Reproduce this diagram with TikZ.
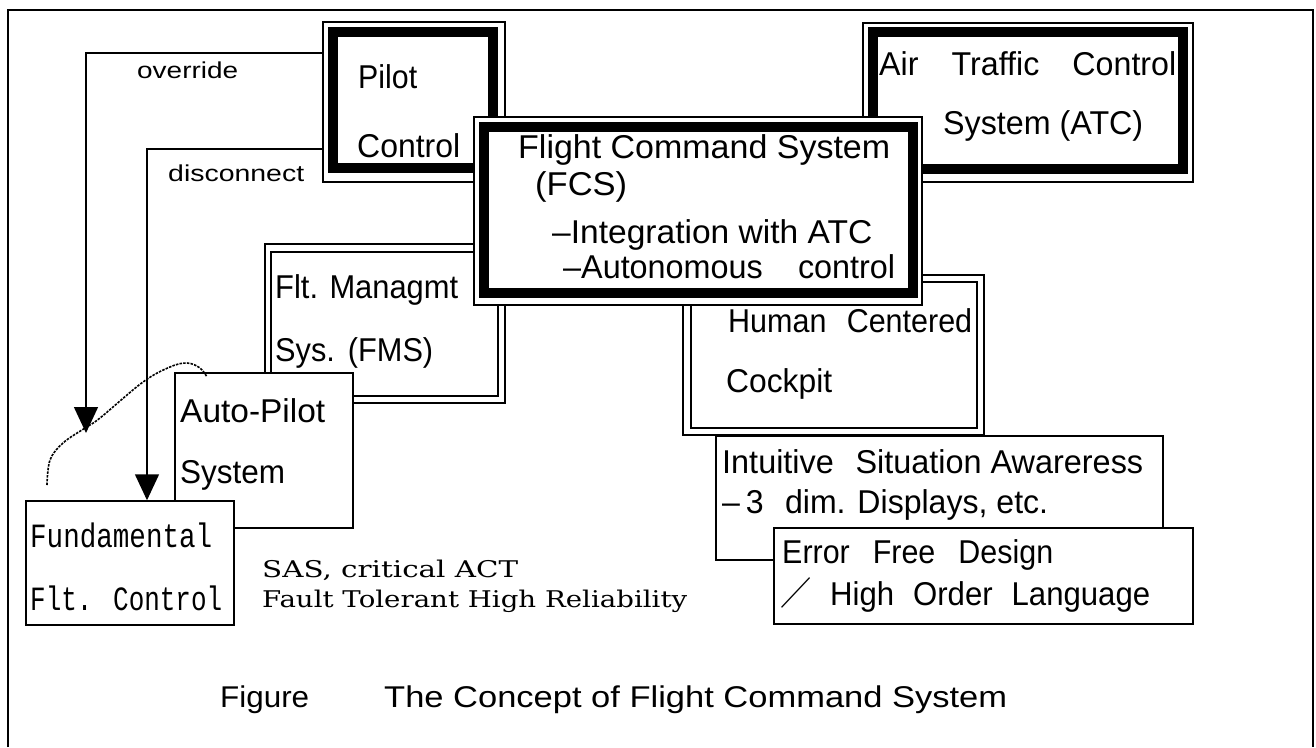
\documentclass[tikz,border=0pt]{standalone}
\usepackage{fontspec}
\usepackage{graphicx}
\setmainfont{Liberation Sans}
\newfontfamily\jpf{Noto Sans CJK JP}
\newfontfamily\monof{Liberation Mono}
\newfontfamily\seriff{DejaVu Serif}
\usetikzlibrary{fit,arrows.meta}
\newcommand\fitw[2]{\resizebox{#1pt}{\height}{#2}}
\begin{document}
\begin{tikzpicture}[x=1pt,y=-1pt,
 thinbox/.style={draw, line width=1.5pt, fill=white, inner sep=0pt, rectangle},
 heavybox/.style={draw, line width=10pt, inner sep=0pt, rectangle},
 plainbox/.style={draw, line width=1.5pt, inner sep=0pt, rectangle},
 txt/.style={anchor=base west, inner sep=0pt, font=\fontsize{33}{33}\selectfont},
 lbl/.style={anchor=base west, inner sep=0pt, font=\fontsize{23}{23}\selectfont},
 monotxt/.style={anchor=base west, inner sep=0pt, font=\monof\fontsize{34}{34}\selectfont},
 seriftxt/.style={anchor=base west, inner sep=0pt, font=\seriff\fontsize{23}{23}\selectfont},
 captxt/.style={anchor=base west, inner sep=0pt, font=\fontsize{30}{30}\selectfont},
 conn/.style={line width=1.5pt, -{Triangle[width=24pt,length=26pt]}},
 dashcurve/.style={line width=1.6pt, dash pattern=on 2.5pt off 1.2pt},
]
\useasboundingbox (0,0) rectangle (1316,747);
\fill[white] (0,0) rectangle (1316,747);
\draw[line width=2pt] (8,747) -- (8,10) -- (1313,10) -- (1313,747);

% Pilot Control
\node[thinbox, fit={(323,22) (505,182)}] (pilot) {};
\node[heavybox, fit={(332.5,32) (493,168)}] (pilotin) {};
% ATC
\node[thinbox, fit={(863,23) (1193,182)}] (atc) {};
\node[heavybox, fit={(873,32) (1182.5,169)}] (atcin) {};
% FMS
\node[thinbox, fit={(265,244) (505,403)}] (fms) {};
\node[plainbox, fit={(271,252) (498,396)}] (fmsin) {};
% Human Centered Cockpit
\node[thinbox, fit={(683,275) (984,435)}] (hcc) {};
\node[plainbox, fit={(691,282) (977,428)}] (hccin) {};
% FCS
\node[thinbox, fit={(474,117) (922,305)}] (fcs) {};
\node[heavybox, fit={(483.5,127) (913,293)}] (fcsin) {};
% Auto-Pilot
\node[thinbox, fit={(175,373) (353,528)}] (ap) {};
% Fundamental
\node[thinbox, fit={(26,501) (234,625)}] (ffc) {};
% Intuitive
\node[thinbox, fit={(716,436) (1163,560)}] (isa) {};
% Error Free
\node[thinbox, fit={(774,528) (1193,624)}] (efd) {};

% texts
\node[txt] (tpilot) at (358,88) {\fitw{59}{Pilot}};
\node[txt] (tcontrol) at (357,157) {\fitw{103}{Control}};
\node[txt] (tatc1) at (879,75) {\fitw{297}{Air\hspace{34pt}Traffic\hspace{34pt}Control}};
\node[txt] (tatc2) at (943,134) {\fitw{200}{System (ATC)}};

\node[txt] (tf1) at (518,158) {\fitw{372}{Flight Command System}};
\node[txt] (tf2) at (535,195) {\fitw{92}{(FCS)}};
\node[txt] (tf3) at (552,243) {\fitw{320}{–Integration with ATC}};
\node[txt] (tf4) at (563,278) {\fitw{332}{–Autonomous\hspace{36pt}control}};

\node[txt] (tm1) at (275,298) {\fitw{183}{Flt. Managmt}};
\node[txt] (tm2) at (275,361) {\fitw{158}{Sys.\hspace{14pt}(FMS)}};

\node[txt] (ta1) at (180,422) {\fitw{145}{Auto-Pilot}};
\node[txt] (ta2) at (180,483) {\fitw{105}{System}};

\node[monotxt] (tfu1) at (30,547) {\fitw{182}{Fundamental}};
\node[monotxt] (tfu2) at (30,610) {\fitw{192}{Flt. Control}};

\node[seriftxt] (ts1) at (262,577) {\fitw{256}{SAS, critical ACT}};
\node[seriftxt] (ts2) at (262,607) {\fitw{425}{Fault Tolerant High Reliability}};

\node[txt] (th1) at (728,332) {\fitw{244}{Human\hspace{22pt}Centered}};
\node[txt] (th2) at (726,392) {\fitw{106}{Cockpit}};

\node[txt] (ti1) at (722,473) {\fitw{421}{Intuitive\hspace{22pt}Situation Awareress}};
\node[txt] (ti2) at (722,513) {\fitw{326}{–\hspace{6pt}3\hspace{22pt}dim. Displays, etc.}};

\node[txt] (te1) at (782,563) {\fitw{271}{Error\hspace{25pt}Free\hspace{25pt}Design}};
\node[txt] (te2) at (780,605) {\fitw{370}{{\jpf ／}\hspace{20pt}High\hspace{20pt}Order\hspace{20pt}Language}};

\node[lbl] (tov) at (137,78) {\fitw{101}{override}};
\node[lbl] (tdc) at (168,181) {\fitw{136}{disconnect}};

\node[captxt] (cap1) at (220,707) {\fitw{89}{Figure}};
\node[captxt] (cap2) at (384,707) {\fitw{623}{The Concept of Flight Command System}};

% connectors
\coordinate (ovk) at (0,53);
\coordinate (ovend) at (86,433);
\coordinate (dck) at (0,149);
\coordinate (dcx) at (147,0);
\draw[conn] (pilot.west |- ovk) -| (ovend);
\draw[conn] (pilot.west |- dck) -| (ffc.north -| dcx);

% dashed curve
\draw[dashcurve] plot[smooth, tension=0.6] coordinates {(47,485) (50,460) (63,443) (85,428) (100,418) (143,382) (170,367) (187,363) (200,368) (207,377)};
\end{tikzpicture}
\end{document}
